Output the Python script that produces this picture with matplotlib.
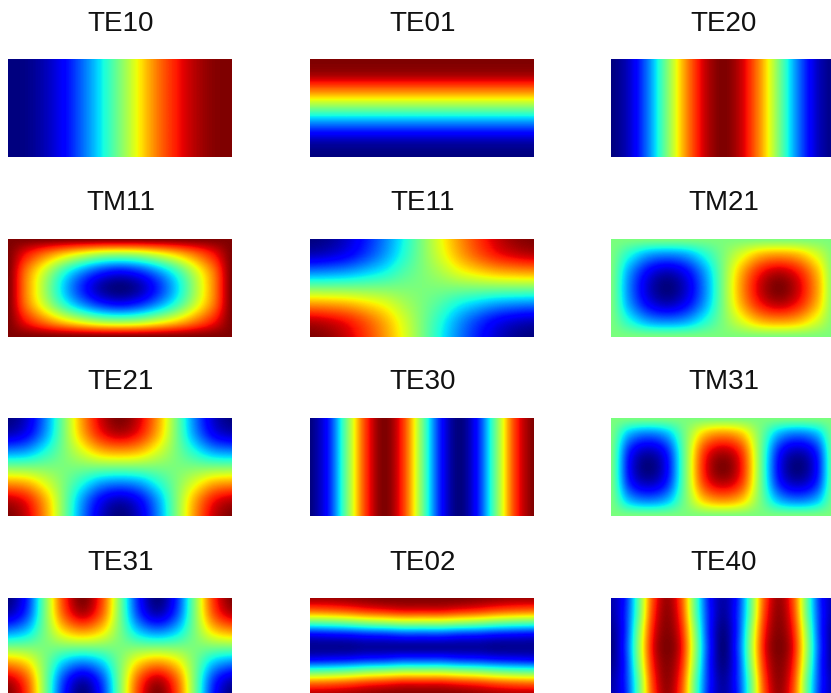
import matplotlib
matplotlib.use('Agg')
import matplotlib.pyplot as plt
import numpy as np

plt.rcParams['font.family'] = ['Liberation Sans', 'DejaVu Sans']

W = 831
H = 693

# field values, 0 = dark blue, 100 = dark red
te10 = [[0, 1, 5, 12, 23, 36, 50, 65, 78, 88, 95, 99, 100]] * 7
te01 = [[100] * 13, [96] * 13, [76] * 13, [50] * 13, [24] * 13, [5] * 13, [0] * 13]
te20 = [[0, 7, 25, 50, 75, 93, 100, 93, 75, 50, 25, 7, 0]] * 7
tm11 = [[100] * 13,
        [100, 88, 77, 67, 59, 53, 51, 53, 59, 67, 77, 88, 100],
        [100, 78, 59, 41, 27, 17, 13, 17, 27, 41, 59, 78, 100],
        [100, 76, 54, 33, 16, 4, 0, 4, 16, 33, 54, 76, 100],
        [100, 78, 59, 41, 27, 17, 13, 17, 27, 41, 59, 78, 100],
        [100, 88, 77, 67, 59, 53, 51, 53, 59, 67, 77, 88, 100],
        [100] * 13]
te11 = [[0, 2, 7, 15, 25, 37, 50, 63, 75, 85, 93, 98, 100],
        [6, 8, 12, 19, 28, 39, 50, 61, 72, 81, 88, 92, 94],
        [25, 26, 28, 32, 37, 44, 50, 56, 63, 68, 72, 74, 75],
        [50] * 13,
        [75, 74, 72, 68, 63, 56, 50, 44, 37, 32, 28, 26, 25],
        [94, 92, 88, 81, 72, 61, 50, 39, 28, 19, 12, 8, 6],
        [100, 98, 93, 85, 75, 63, 50, 37, 25, 15, 7, 2, 0]]
tm21 = [[50] * 13,
        [50, 38, 28, 25, 28, 38, 50, 62, 72, 75, 72, 62, 50],
        [50, 28, 12, 6, 12, 28, 50, 72, 88, 94, 88, 72, 50],
        [50, 25, 7, 0, 7, 25, 50, 75, 93, 100, 93, 75, 50],
        [50, 28, 12, 6, 12, 28, 50, 72, 88, 94, 88, 72, 50],
        [50, 38, 28, 25, 28, 38, 50, 62, 72, 75, 72, 62, 50],
        [50] * 13]
te21 = [[0, 7, 25, 50, 75, 93, 100, 93, 75, 50, 25, 7, 0],
        [6, 12, 28, 50, 72, 88, 94, 88, 72, 50, 28, 12, 6],
        [25, 28, 38, 50, 62, 72, 75, 72, 62, 50, 38, 28, 25],
        [50] * 13,
        [75, 72, 62, 50, 38, 28, 25, 28, 38, 50, 62, 72, 75],
        [94, 88, 72, 50, 28, 12, 6, 12, 28, 50, 72, 88, 94],
        [100, 93, 75, 50, 25, 7, 0, 7, 25, 50, 75, 93, 100]]
te30 = [[0, 15, 50, 85, 100, 85, 50, 15, 0, 15, 50, 85, 100]] * 7
tm31 = [[50] * 13,
        [50, 30, 24, 30, 50, 70, 76, 70, 50, 30, 24, 30, 50],
        [50, 16, 6, 16, 50, 84, 94, 84, 50, 16, 6, 16, 50],
        [50, 12, 0, 12, 50, 88, 100, 88, 50, 12, 0, 12, 50],
        [50, 16, 6, 16, 50, 84, 94, 84, 50, 16, 6, 16, 50],
        [50, 30, 24, 30, 50, 70, 76, 70, 50, 30, 24, 30, 50],
        [50] * 13]
te31 = [[0, 15, 50, 85, 100, 85, 50, 15, 0, 15, 50, 85, 100],
        [6, 19, 50, 81, 94, 81, 50, 19, 6, 19, 50, 81, 94],
        [25, 32, 50, 68, 75, 68, 50, 32, 25, 32, 50, 68, 75],
        [50] * 13,
        [75, 68, 50, 32, 25, 32, 50, 68, 75, 68, 50, 32, 25],
        [94, 81, 50, 19, 6, 19, 50, 81, 94, 81, 50, 19, 6],
        [100, 85, 50, 15, 0, 15, 50, 85, 100, 85, 50, 15, 0]]
te02 = [[97, 97, 98, 99, 100, 100, 100, 100, 100, 99, 98, 97, 97],
        [80, 81, 83, 86, 88, 90, 90, 90, 88, 86, 83, 81, 80],
        [46, 47, 49, 52, 54, 56, 56, 56, 54, 52, 49, 47, 46],
        [12, 13, 14, 16, 17, 19, 19, 19, 17, 16, 14, 13, 12],
        [2, 2, 2, 3, 3, 3, 3, 3, 3, 3, 2, 2, 2],
        [12, 13, 14, 16, 17, 19, 19, 19, 17, 16, 14, 13, 12],
        [46, 47, 49, 52, 54, 56, 56, 56, 54, 52, 49, 47, 46],
        [80, 81, 83, 86, 88, 90, 90, 90, 88, 86, 83, 81, 80],
        [97, 97, 98, 99, 100, 100, 100, 100, 100, 99, 98, 97, 97]]
te40 = [[4, 15, 47, 83, 97, 83, 47, 15, 4, 15, 47, 83, 97, 83, 47, 15, 4],
        [3, 16, 48, 85, 98, 85, 48, 16, 3, 16, 48, 85, 98, 85, 48, 16, 3],
        [1, 16, 52, 88, 99, 88, 52, 16, 1, 16, 52, 88, 99, 88, 52, 16, 1],
        [0, 17, 54, 90, 100, 90, 54, 17, 0, 17, 54, 90, 100, 90, 54, 17, 0],
        [1, 16, 52, 88, 99, 88, 52, 16, 1, 16, 52, 88, 99, 88, 52, 16, 1],
        [3, 16, 48, 85, 98, 85, 48, 16, 3, 16, 48, 85, 98, 85, 48, 16, 3],
        [4, 15, 47, 83, 97, 83, 47, 15, 4, 15, 47, 83, 97, 83, 47, 15, 4]]

names = ['TE10', 'TE01', 'TE20', 'TM11', 'TE11', 'TM21',
         'TE21', 'TE30', 'TM31', 'TE31', 'TE02', 'TE40']
fields = [te10, te01, te20, tm11, te11, tm21, te21, te30, tm31, te31, te02, te40]

# pixel layout of the grid
lewe = [8, 310, 611]
gorne = [59, 239, 418, 598]
linie_tekstu = [31, 210, 389, 570]
szer = 224
wys = 98

fig = plt.figure(figsize=(W / 100, H / 100), dpi=100)

for i in range(len(names)):
    w = i // 3
    k = i % 3
    ax = fig.add_axes([lewe[k] / W, 1 - (gorne[w] + wys) / H, szer / W, wys / H])
    z = np.array(fields[i], dtype=float)
    ny, nx = z.shape
    # grid nodes sit on the panel edges, the half cell outside gets clipped
    ax.imshow(z, cmap='jet', vmin=0, vmax=100, aspect='auto', interpolation='catrom',
              extent=(-0.5, nx - 0.5, ny - 0.5, -0.5))
    ax.set_xlim(0, nx - 1)
    ax.set_ylim(ny - 1, 0)
    ax.axis('off')
    fig.text((lewe[k] + szer / 2 + 1) / W, 1 - linie_tekstu[w] / H, names[i],
             fontsize=20, ha='center', va='baseline', color='#111111')

fig.savefig('out.png', dpi=100)
